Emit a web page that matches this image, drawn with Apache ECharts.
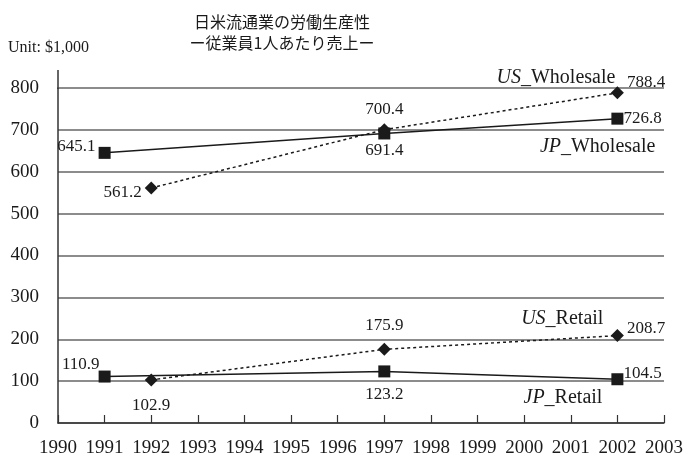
<!DOCTYPE html>
<html>
<head>
<meta charset="utf-8">
<script src="https://cdn.jsdelivr.net/npm/echarts@6/dist/echarts.min.js"></script>
<style>
html,body{margin:0;padding:0;background:#fff;}
#main{width:686px;height:458px;}
</style>
</head>
<body>
<div id="main"></div>
<script>
// 年
var jpYears = [1991, 1997, 2002];
var usYears = [1992, 1997, 2002];
// 従業員1人あたり売上 (Unit: $1,000)
var jpWholesale = [645.1, 691.4, 726.8];
var usWholesale = [561.2, 700.4, 788.4];
var jpRetail = [110.9, 123.2, 104.5];
var usRetail = [102.9, 175.9, 208.7];

var serif = '"Liberation Serif", "DejaVu Serif", serif';
var ink = '#1a1a1a';

function pairs(xs, ys) {
    return xs.map(function (x, i) { return [x, ys[i]]; });
}

// ラベル位置 (各点ごと)
var labelCfg = {
    jpW: [{position: 'left', offset: [0, -6]}, {position: 'bottom', offset: [0, 0]}, {position: 'right', offset: [-3, 0]}],
    usW: [{position: 'left', offset: [0, 5]}, {position: 'top', offset: [0, -2]}, {position: 'right', offset: [0, -10]}],
    jpR: [{position: 'left', offset: [4, -12]}, {position: 'bottom', offset: [0, 6]}, {position: 'right', offset: [-3, -6]}],
    usR: [{position: 'bottom', offset: [0, 8]}, {position: 'top', offset: [0, -6]}, {position: 'right', offset: [0, -7]}]
};

function withLabels(data, cfg) {
    return data.map(function (d, i) {
        return {value: d, label: cfg[i]};
    });
}

function nameMark(country, kind, coord, pos, offset) {
    return {
        symbol: 'rect',
        symbolSize: 0,
        silent: true,
        data: [{
            coord: coord,
            label: {
                show: true,
                position: pos,
                distance: 0,
                offset: offset,
                formatter: '{i|' + country + '}_' + kind,
                fontFamily: serif,
                fontSize: 20,
                color: ink,
                rich: {
                    i: {fontStyle: 'italic', fontFamily: serif, fontSize: 20, color: ink}
                }
            }
        }]
    };
}

function makeSeries(name, xs, ys, cfg, isJp, mark) {
    return {
        name: name,
        type: 'line',
        data: withLabels(pairs(xs, ys), cfg),
        symbol: isJp ? 'rect' : 'diamond',
        symbolSize: isJp ? 12 : 13,
        showAllSymbol: true,
        itemStyle: {color: ink},
        lineStyle: {color: ink, width: 1.5, type: isJp ? 'solid' : [3, 3]},
        label: {
            show: true,
            fontFamily: serif,
            fontSize: 17,
            color: ink,
            distance: 3,
            formatter: function (p) { return p.value[1].toFixed(1); }
        },
        markPoint: mark,
        z: isJp ? 3 : 2,
        animation: false
    };
}

var myChart = echarts.init(document.getElementById('main'));

var option = {
    backgroundColor: '#fff',
    animation: false,
    title: {
        text: '日米流通業の労働生産性\nー従業員1人あたり売上ー',
        left: 277,
        top: 6,
        textAlign: 'center',
        textStyle: {
            fontFamily: '"Noto Sans CJK JP", sans-serif',
            fontSize: 16,
            fontWeight: 'normal',
            lineHeight: 21,
            color: ink
        }
    },
    graphic: [
        {
            type: 'text',
            left: 8,
            top: 40,
            style: {text: 'Unit: $1,000', fontFamily: serif, fontSize: 16, fill: ink}
        },
        {
            type: 'line',
            shape: {x1: 58, y1: 70, x2: 58, y2: 89},
            style: {stroke: '#333', lineWidth: 1.5}
        }
    ],
    grid: {left: 58, right: 22, top: 88, bottom: 35},
    xAxis: {
        type: 'value',
        min: 1990,
        max: 2003,
        interval: 1,
        axisLine: {show: true, lineStyle: {color: '#333', width: 1.5}},
        axisTick: {show: true, inside: true, length: 8, lineStyle: {color: '#333', width: 1.2}},
        axisLabel: {fontFamily: serif, fontSize: 19, color: ink, margin: 16, formatter: function (v) { return String(v); }},
        splitLine: {show: false}
    },
    yAxis: {
        type: 'value',
        min: 0,
        max: 800,
        interval: 100,
        axisLine: {show: true, lineStyle: {color: '#333', width: 1.5}},
        axisTick: {show: false},
        axisLabel: {fontFamily: serif, fontSize: 19, color: ink, margin: 19},
        splitLine: {show: true, lineStyle: {color: '#666', width: 1.5}}
    },
    series: [
        makeSeries('JP_Wholesale', jpYears, jpWholesale, labelCfg.jpW, true,
            nameMark('JP', 'Wholesale', [2002, jpWholesale[2]], 'left', [38, 28])),
        makeSeries('US_Wholesale', usYears, usWholesale, labelCfg.usW, false,
            nameMark('US', 'Wholesale', [2002, usWholesale[2]], 'left', [-2, -15])),
        makeSeries('JP_Retail', jpYears, jpRetail, labelCfg.jpR, true,
            nameMark('JP', 'Retail', [2002, jpRetail[2]], 'left', [-15, 19])),
        makeSeries('US_Retail', usYears, usRetail, labelCfg.usR, false,
            nameMark('US', 'Retail', [2002, usRetail[2]], 'left', [-14, -17]))
    ]
};

myChart.setOption(option);
window.addEventListener('resize', function () {
    myChart.resize();
});
</script>
</body>
</html>
